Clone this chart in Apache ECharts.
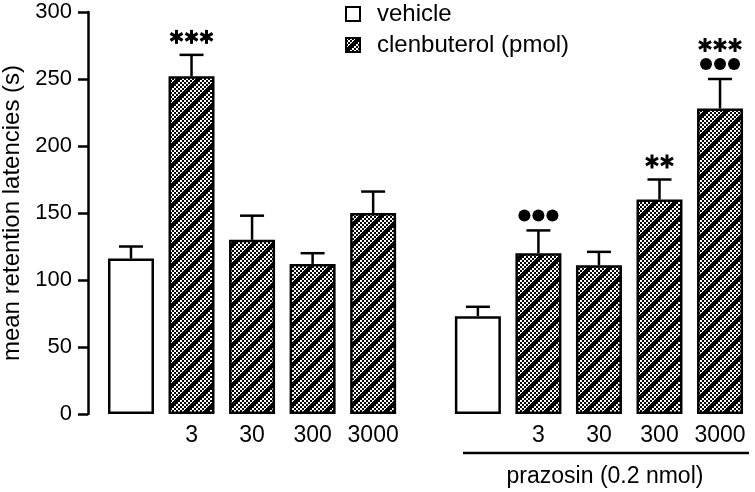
<!DOCTYPE html>
<html><head><meta charset="utf-8">
<script src="https://cdn.jsdelivr.net/npm/echarts@6/dist/echarts.min.js"></script>
<style>html,body{margin:0;padding:0;background:#fff}#c{width:755px;height:492px}</style>
</head><body><div id="c"></div>
<script>
// ---- data ----
const doses = ['', '3', '30', '300', '3000'];
const controlMeans = [116, 252, 130, 112, 150];
const controlErrTop = [125, 268, 148, 120, 166];
const prazosinMeans = [73, 120, 111, 160, 228];
const prazosinErrTop = [80, 137, 121, 175, 250];
const controlStars = [0, 3, 0, 0, 0];
const controlDots = [0, 0, 0, 0, 0];
const prazosinStars = [0, 0, 0, 2, 3];
const prazosinDots = [0, 3, 0, 0, 3];
const yTicks = [0, 50, 100, 150, 200, 250, 300];
const groupLabel = 'prazosin (0.2 nmol)';
const legendNames = ['vehicle', 'clenbuterol (pmol)'];
const yName = 'mean retention latencies (s)';

// ---- layout helpers ----
const GROUP_GAP = 1.73;
const FONT = 'Liberation Sans, Arial, Helvetica, sans-serif';
function pos(g, i) { return g === 0 ? i : (doses.length - 1) + GROUP_GAP + i; }

function makePattern() {
  const c = document.createElement('canvas');
  c.width = c.height = 20;
  const ctx = c.getContext('2d');
  ctx.fillStyle = '#000'; ctx.fillRect(0, 0, 20, 20);
  ctx.fillStyle = '#fff';
  for (let y = 0; y < 20; y++) for (let x = 0; x < 20; x++) {
    if ((x + y) % 20 < 14 && (((x >> 1) + (y >> 1)) % 2 === 0)) ctx.fillRect(x, y, 1, 1);
  }
  return c;
}
const hatch = makePattern();

const groups = [
  { means: controlMeans, err: controlErrTop, stars: controlStars, dots: controlDots },
  { means: prazosinMeans, err: prazosinErrTop, stars: prazosinStars, dots: prazosinDots }
];
const vehicleData = [], clenData = [], errData = [], markData = [], doseTickPos = [], doseTickLab = {};
groups.forEach((G, g) => {
  G.means.forEach((m, i) => {
    const x = pos(g, i);
    if (i === 0) vehicleData.push([x, m]); else { clenData.push([x, m]); doseTickPos.push(x); doseTickLab[x.toFixed(3)] = doses[i]; }
    errData.push([x, m, G.err[i]]);
    if (G.stars[i] || G.dots[i]) markData.push([x, G.err[i], G.stars[i], G.dots[i]]);
  });
});

const chart = echarts.init(document.getElementById('c'), null, { renderer: 'canvas' });
chart.setOption({
  animation: false,
  backgroundColor: '#fff',
  grid: { left: 88, right: 5, top: 12, bottom: 78, containLabel: false, outerBoundsMode: 'none' },
  xAxis: {
    type: 'value', min: -0.71, max: 10.225,
    axisLine: { show: false, onZero: false }, axisTick: { show: false }, splitLine: { show: false },
    axisLabel: {
      customValues: doseTickPos,
      formatter: v => doseTickLab[Number(v).toFixed(3)] || '',
      fontSize: 23, color: '#000', fontFamily: FONT, margin: 10
    }
  },
  yAxis: {
    type: 'value', min: yTicks[0], max: yTicks[yTicks.length - 1], interval: yTicks[1] - yTicks[0],
    axisLine: { show: true, onZero: false, lineStyle: { color: '#000', width: 2.5 } },
    axisTick: { show: true, length: 10, lineStyle: { color: '#000', width: 2.5 } },
    splitLine: { show: false },
    axisLabel: { fontSize: 22, color: '#000', fontFamily: FONT, margin: 16 },
    name: yName, nameLocation: 'middle', nameGap: 62,
    nameTextStyle: { fontSize: 24, color: '#000', fontFamily: FONT }
  },
  series: [
    { type: 'bar', name: legendNames[0], data: vehicleData, barWidth: 46, barGap: '-100%',
      itemStyle: { color: '#fff', borderColor: '#000', borderWidth: 2.5 } },
    { type: 'bar', name: legendNames[1], data: clenData, barWidth: 46, barGap: '-100%',
      itemStyle: { color: { image: hatch, repeat: 'repeat' }, borderColor: '#000', borderWidth: 2.5 } },
    { type: 'custom', data: errData, z: 1,
      renderItem: (params, api) => {
        const x = api.value(0);
        const b = api.coord([x, api.value(1)]), t = api.coord([x, api.value(2)]);
        const st = { stroke: '#000', lineWidth: 2.5 };
        return { type: 'group', children: [
          { type: 'line', shape: { x1: t[0], y1: t[1], x2: b[0], y2: b[1] }, style: st },
          { type: 'line', shape: { x1: t[0] - 12, y1: t[1], x2: t[0] + 12, y2: t[1] }, style: st }
        ]};
      } },
    { type: 'custom', data: markData, z: 3,
      renderItem: (params, api) => {
        const x = api.value(0), nS = api.value(2), nD = api.value(3);
        const t = api.coord([x, api.value(1)]);
        const ch = [];
        let y = t[1];
        if (nD) {
          y -= 15;
          for (let k = 0; k < nD; k++) {
            ch.push({ type: 'circle', shape: { cx: t[0] + (k - (nD - 1) / 2) * 14, cy: y, r: 6 }, style: { fill: '#000' } });
          }
          y -= 19;
        } else {
          y -= 18;
        }
        if (nS) {
          for (let k = 0; k < nS; k++) {
            const cx = t[0] + (k - (nS - 1) / 2) * 15;
            [90, 30, 150].forEach(a => {
              const r = a * Math.PI / 180, L = 7;
              ch.push({ type: 'line', shape: { x1: cx - L * Math.cos(r), y1: y - L * Math.sin(r), x2: cx + L * Math.cos(r), y2: y + L * Math.sin(r) },
                style: { stroke: '#000', lineWidth: 3 } });
            });
          }
        }
        return { type: 'group', children: ch };
      } }
  ],
  graphic: [
    { type: 'rect', shape: { x: 346, y: 7, width: 14, height: 14 }, style: { fill: '#fff', stroke: '#000', lineWidth: 2 } },
    { type: 'rect', shape: { x: 346, y: 38, width: 14, height: 14 }, style: { fill: { image: hatch, repeat: 'repeat' }, stroke: '#000', lineWidth: 2 } },
    { type: 'text', x: 377, y: 14, style: { text: legendNames[0], font: '24px ' + FONT, fill: '#000', verticalAlign: 'middle' } },
    { type: 'text', x: 377, y: 45, style: { text: legendNames[1], font: '24px ' + FONT, fill: '#000', verticalAlign: 'middle' } },
    { type: 'line', shape: { x1: 463, y1: 453, x2: 749, y2: 453 }, style: { stroke: '#000', lineWidth: 2.5 } },
    { type: 'text', x: 605, y: 477, style: { text: groupLabel, font: '23px ' + FONT, fill: '#000', align: 'center', verticalAlign: 'middle' } }
  ]
});
</script>
</body></html>
